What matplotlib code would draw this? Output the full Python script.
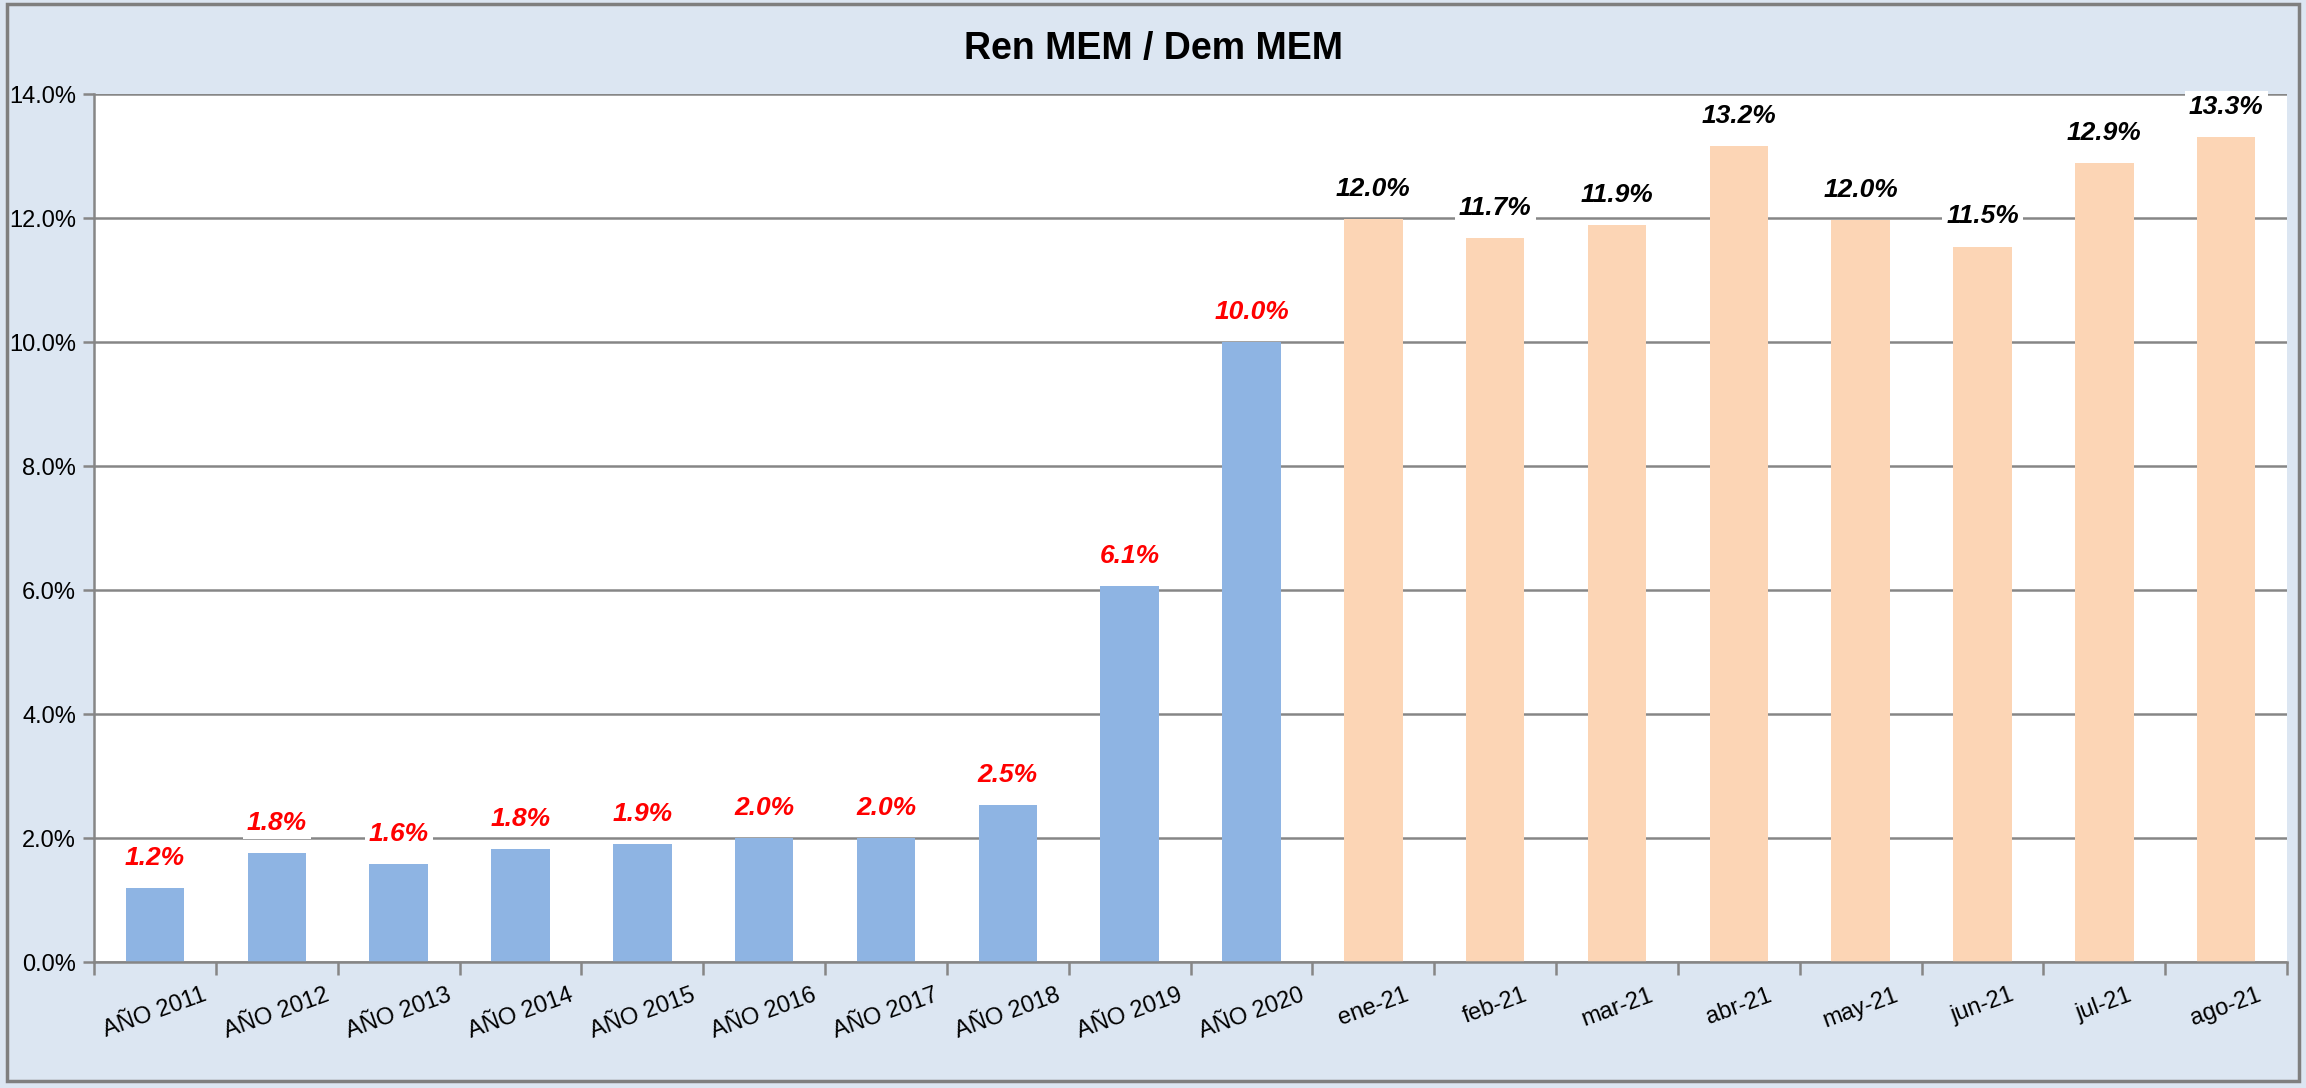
import matplotlib
matplotlib.use("Agg")
import matplotlib.pyplot as plt
from matplotlib.patches import Rectangle
from matplotlib.ticker import FuncFormatter, FixedLocator

plt.rcParams['font.family'] = ['Liberation Sans Narrow', 'Liberation Sans', 'DejaVu Sans']

categories = ['AÑO 2011', 'AÑO 2012', 'AÑO 2013', 'AÑO 2014', 'AÑO 2015',
              'AÑO 2016', 'AÑO 2017', 'AÑO 2018', 'AÑO 2019', 'AÑO 2020',
              'ene-21', 'feb-21', 'mar-21', 'abr-21', 'may-21', 'jun-21',
              'jul-21', 'ago-21']
values = [1.2, 1.76, 1.58, 1.82, 1.91, 2.0, 2.0, 2.53, 6.06, 10.0,
          11.99, 11.68, 11.88, 13.16, 11.96, 11.54, 12.88, 13.3]
n_years = 10

bg = '#DCE6F2'
fig = plt.figure(figsize=(23.06, 10.88), dpi=100, facecolor=bg)
ax = fig.add_axes([0.0408, 0.1158, 0.9510, 0.7978])
ax.set_facecolor('white')

xs = list(range(len(categories)))
colors = ['#8EB4E3' if i < n_years else '#FCD5B5' for i in xs]
ax.bar(xs, values, width=0.48, color=colors, zorder=3)

ax.set_ylim(0, 14)
ax.set_xlim(-0.5, len(categories) - 0.5)
ax.set_yticks([0, 2, 4, 6, 8, 10, 12, 14])
ax.yaxis.set_major_formatter(FuncFormatter(lambda v, p: '%.1f%%' % v))
ax.grid(axis='y', color='#868686', linewidth=1.8, zorder=1)

ax.set_xticks(xs)
ax.set_xticklabels(categories, rotation=20, ha='center', fontsize=17)
ax.tick_params(axis='x', length=0, pad=16)
ax.xaxis.set_minor_locator(FixedLocator([i - 0.5 for i in range(len(categories) + 1)]))
ax.tick_params(axis='x', which='minor', length=9, width=1.8, color='#868686')
ax.tick_params(axis='y', labelsize=17, length=8, width=1.8, color='#868686', pad=5)

for s in ['top', 'right']:
    ax.spines[s].set_visible(False)
for s in ['left', 'bottom']:
    ax.spines[s].set_color('#868686')
    ax.spines[s].set_linewidth(1.8)
    ax.spines[s].set_zorder(4)

for i, v in enumerate(values):
    col = 'red' if i < n_years else 'black'
    ax.annotate('%.1f%%' % v, (i, v), xytext=(0, 13), textcoords='offset points',
                ha='center', va='bottom', fontsize=19, fontweight='bold',
                fontstyle='italic', color=col, zorder=5,
                bbox=dict(boxstyle='square,pad=0.15', fc='white', ec='none'))

fig.text(0.5, 0.955, 'Ren MEM / Dem MEM', ha='center', va='center',
         fontsize=27, fontweight='bold', color='black')

fig.patches.append(Rectangle((0.003, 0.006), 0.994, 0.99, transform=fig.transFigure,
                             fill=False, ec='#7F7F7F', lw=2.5, zorder=10))

fig.savefig('out.png', dpi=100, facecolor=bg)
